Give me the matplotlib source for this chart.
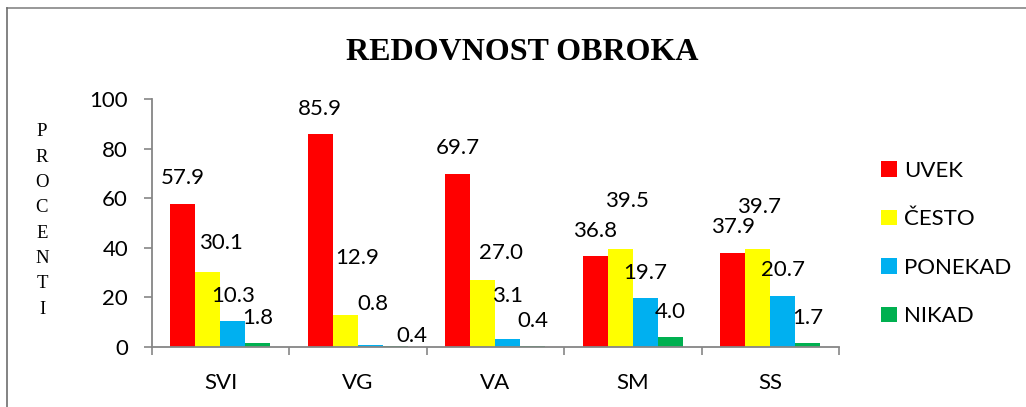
import matplotlib
matplotlib.use("Agg")
import matplotlib.pyplot as plt
from matplotlib.patches import Patch
from matplotlib.lines import Line2D
import numpy as np

categories = ["SVI", "VG", "VA", "SM", "SS"]
series_names = ["UVEK", "ČESTO", "PONEKAD", "NIKAD"]
uvek = [57.9, 85.9, 69.7, 36.8, 37.9]
cesto = [30.1, 12.9, 27.0, 39.5, 39.7]
ponekad = [10.3, 0.8, 3.1, 19.7, 20.7]
nikad = [1.8, 0.4, 0.4, 4.0, 1.7]
yticks = [0, 20, 40, 60, 80, 100]
title = "REDOVNOST OBROKA"
ylabel = "PROCENTI"

colors = ["#FF0000", "#FFFF00", "#00B0F0", "#00B050"]
series = [uvek, cesto, ponekad, nikad]

# label placement tweaks (pixels): horizontal / vertical shift from default
label_dx = [[0, 0, 0, 0, 0],
            [13.5, 11.5, 18, 7, 1],
            [0, 2.5, 0, 0, 0],
            [0, 16, 0, 0, 0]]
label_dy = [[1, 0, 1, 0, 1],
            [4.5, 32, 2, 23, 17],
            [0, 16, 18, 0, 1],
            [0, -15, 0, 0, 0]]

W, H, DPI = 1026, 407, 100
fig = plt.figure(figsize=(W / DPI, H / DPI), dpi=DPI)
fig.patch.set_facecolor("white")

ax_l, ax_r, ax_b, ax_t = 151.7, 839.0, 347.0, 99.3
ax = fig.add_axes([ax_l / W, 1 - ax_b / H, (ax_r - ax_l) / W, (ax_b - ax_t) / H])

FONT = "Lato"
fs = 16
grey = "#868686"

bw = 25 / 137.4
x = np.arange(len(categories))
for j, (vals, c) in enumerate(zip(series, colors)):
    xs = x + (j - 1.5) * bw
    ax.bar(xs, vals, width=bw, color=c, edgecolor="none", label=series_names[j])
    for i, v in enumerate(vals):
        ax.annotate(f"{v:.1f}", xy=(xs[i], v),
                    xytext=(label_dx[j][i] * 0.72, (25 + label_dy[j][i]) * 0.72),
                    textcoords="offset points", ha="center", va="center",
                    fontsize=fs, family=FONT, color="black")

ax.set_xlim(-0.5, len(categories) - 0.5)
ax.set_ylim(0, 100)
ax.set_yticks(yticks)
ax.set_yticklabels([str(t) for t in yticks], fontsize=fs, family=FONT)
ax.set_xticks(x)
ax.set_xticklabels(categories, fontsize=fs, family=FONT)
ax.set_xticks(np.arange(-0.5, len(categories)), minor=True)
ax.tick_params(axis="x", which="major", length=0, pad=19)
ax.tick_params(axis="x", which="minor", length=6, width=1.2, color=grey, direction="out")
ax.tick_params(axis="y", which="major", length=6, width=1.2, color=grey, direction="out", pad=11)
for s in ["top", "right"]:
    ax.spines[s].set_visible(False)
for s in ["left", "bottom"]:
    ax.spines[s].set_color(grey)
    ax.spines[s].set_linewidth(1.3)

# title
fig.text(522 / W, 1 - 53 / H, title, ha="center", va="center",
         fontsize=23, fontweight="bold", family="Liberation Serif")

# stacked vertical label
for k, ch in enumerate(ylabel):
    fig.text(42 / W, 1 - (132 + k * 25.3) / H, ch, ha="center", va="center",
             fontsize=13.5, family="Liberation Serif")

# legend
handles = [Patch(facecolor=c, edgecolor="none") for c in colors]
leg = fig.legend(handles, series_names, loc="upper left",
                 bbox_to_anchor=(881 / W, 1 - 161 / H), frameon=False,
                 prop={"family": FONT, "size": fs},
                 handlelength=0.7, handleheight=0.7, handletextpad=0.35,
                 labelspacing=1.28, borderpad=0, borderaxespad=0)

# outer frame lines (top and left)
fig.add_artist(Line2D([7 / W, 1], [1 - 8 / H, 1 - 8 / H], color=grey, lw=1.2,
                      transform=fig.transFigure))
fig.add_artist(Line2D([7 / W, 7 / W], [0, 1 - 8 / H], color="#6e6e6e", lw=1.2,
                      transform=fig.transFigure))

fig.savefig("out.png", dpi=DPI)
